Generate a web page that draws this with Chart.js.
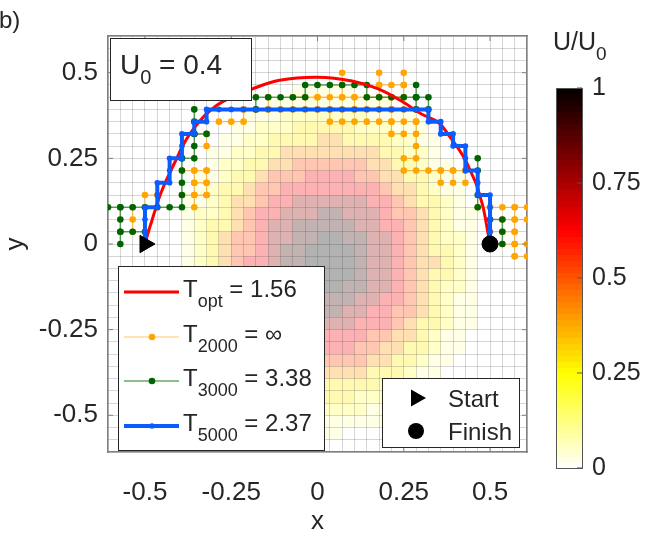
<!DOCTYPE html>
<html>
<head>
<meta charset="utf-8">
<script src="https://cdn.jsdelivr.net/npm/chart.js@4.4.1/dist/chart.umd.min.js"></script>
<style>
  body { margin: 0; background: #fff; }
  canvas { display: block; }
</style>
</head>
<body>
<canvas id="paths" width="648" height="545"></canvas>
<script>
// grid: nodes every 1/28, axes run from -17/28 to 17/28
var N = 28;
var LIM = 17 / N;
var xTicks = [-0.5, -0.25, 0, 0.25, 0.5];
var yTicks = [-0.5, -0.25, 0, 0.25, 0.5];
var cbTicks = [0, 0.25, 0.5, 0.75, 1];
var U0 = '0.4';

// U/U0 value of each level digit used in heatRows
var heatLevels = [0, 0.08, 0.18, 0.28, 0.4, 0.52, 0.64, 0.78, 0.92, 1.0];

// potential level per grid cell, top row (y from 16/28 to 17/28) first
var heatRows = [
  "0000000000000000000000000000000000",
  "0000000000000000000000000000000000",
  "0000000000000000000000000000000000",
  "0000000000000000000000000000000000",
  "0000000000000001111100000000000000",
  "0000000000000111111111100000000000",
  "0000000000011122222221111000000000",
  "0000000000112223333322211100000000",
  "0000000001122333344333322110000000",
  "0000000011223344444444332210000000",
  "0000000012233445555554433211000000",
  "0000000112334555666655443321100000",
  "0000000123345566666666544321100000",
  "0000001123445667777776654332100000",
  "0000001223456677788777655432110000",
  "0000001233456778888877665432110000",
  "0000001234556778899887765432210000",
  "0000001234556788999987765433210000",
  "0000001234566788999987765443210000",
  "0000001234556788999987765433210000",
  "0000001234556778899887765432210000",
  "0000001234456778888877665432110000",
  "0000001123456677788776655432110000",
  "0000001123455667777766654332110000",
  "0000000123345566666665544321100000",
  "0000000112334555666655443321100000",
  "0000000011233445555554433211000000",
  "0000000011223344444443332110000000",
  "0000000001122333333333221100000000",
  "0000000000111222333322211000000000",
  "0000000000011112222221110000000000",
  "0000000000000111111111100000000000",
  "0000000000000000011000000000000000",
  "0000000000000000000000000000000000"
];

// optimal trajectory
var optX = [-0.5, -0.489, -0.48, -0.468, -0.456, -0.441, -0.425, -0.408, -0.391, -0.37, -0.343, -0.315, -0.276, -0.19, -0.11, 0, 0.1, 0.178, 0.25, 0.3, 0.351, 0.38, 0.406, 0.428, 0.444, 0.46, 0.471, 0.481, 0.492, 0.5];
var optY = [0, 0.039, 0.068, 0.107, 0.143, 0.18, 0.214, 0.25, 0.286, 0.321, 0.357, 0.386, 0.415, 0.452, 0.478, 0.487, 0.476, 0.452, 0.413, 0.38, 0.354, 0.318, 0.282, 0.246, 0.211, 0.175, 0.139, 0.103, 0.044, 0];

var startPt = [-0.5, 0];
var finishPt = [0.5, 0];

// learned paths on the grid: "i,j:moves" (i, j in grid steps; U D L R one step each)
var path5000 = ["-14,0:UUURUURUURUURURURRRRRRRRRRRRRRRRRRDRDRDRDDRDDRDDDD"];
var path3000 = ["-17,3:RRR", "-16,3:DDD", "-16,1:RR", "-13,3:RRUUUU", "-11,7:RUUUU", "-10,9:R",
  "-5,11:URRRRURRRRRDRRRRUDDURD", "13,6:U", "13,4:D", "14,2:RDDL"];
var path2000 = ["-15,3:DD", "-14,3:UR", "-10,3:UUU", "-11,6:RR", "-11,4:RR", "-9,4:UU", "-10,5:R", "-10,9:RD",
  "-6,11:DLL", "-6,11:RRRRRRRRRRRRRR", "-4,11:U", "-2,12:RRRRRRRRR", "0,11:U", "3,11:U", "6,11:U",
  "2,12:UU", "5,12:UU", "7,12:UU", "5,13:RR", "1,11:DRRRRRRR", "6,10:DR", "8,10:DDDLDRRRRR",
  "10,6:D", "11,6:D", "12,6:D", "13,3:R", "14,3:RRR", "16,3:DDDD", "15,2:RR", "14,1:RR", "14,0:RRR", "16,-1:R"];

var legendSub = ['opt', '2000', '3000', '5000'];
var legendVal = ['1.56', '\u221e', '3.38', '2.37'];

var FONT = "'Liberation Sans', Arial, Helvetica, sans-serif";
var TXT = '#262626';

var gridVals = [];
for (var k = -17; k <= 17; k++) gridVals.push(k / N);

function pathPoints(list) {
  var pts = [];
  list.forEach(function (s) {
    var parts = s.split(':');
    var ij = parts[0].split(',').map(Number);
    var i = ij[0], j = ij[1];
    pts.push({ x: i / N, y: j / N });
    for (var m of parts[1]) {
      if (m === 'U') j++;
      else if (m === 'D') j--;
      else if (m === 'R') i++;
      else if (m === 'L') i--;
      pts.push({ x: i / N, y: j / N });
    }
    pts.push({ x: NaN, y: NaN });
  });
  return pts;
}

// flipped "hot" colormap
function heatColor(u) {
  var r, g, b;
  if (u <= 0.25) { r = 255; g = 255; b = 255 * (1 - u / 0.25); }
  else if (u <= 0.625) { r = 255; g = 255 * (1 - (u - 0.25) / 0.375); b = 0; }
  else { r = 255 * (1 - (u - 0.625) / 0.375); g = 0; b = 0; }
  return 'rgb(' + Math.round(r) + ',' + Math.round(g) + ',' + Math.round(b) + ')';
}

function drawParts(ctx, x, y, parts) {
  parts.forEach(function (p) {
    ctx.font = p[1] + 'px ' + FONT;
    ctx.fillText(p[0], x, y + p[2]);
    x += ctx.measureText(p[0]).width;
  });
  return x;
}

var heatPlugin = {
  id: 'heat',
  beforeDraw: function (chart) {
    var ctx = chart.ctx, a = chart.chartArea, xs = chart.scales.x, ys = chart.scales.y;
    ctx.save();
    ctx.beginPath();
    ctx.rect(a.left, a.top, a.right - a.left, a.bottom - a.top);
    ctx.clip();
    ctx.globalAlpha = 0.3;
    heatRows.forEach(function (row, r) {
      var j = 16 - r;
      for (var c = 0; c < row.length; c++) {
        var d = +row[c];
        if (!d) continue;
        var i = c - 17;
        var x0 = xs.getPixelForValue(i / N), x1 = xs.getPixelForValue((i + 1) / N);
        var y0 = ys.getPixelForValue((j + 1) / N), y1 = ys.getPixelForValue(j / N);
        ctx.fillStyle = heatColor(heatLevels[d]);
        ctx.fillRect(x0, y0, x1 - x0, y1 - y0);
      }
    });
    ctx.restore();
  }
};

var notesPlugin = {
  id: 'notes',
  afterDraw: function (chart) {
    var ctx = chart.ctx, a = chart.chartArea, xs = chart.scales.x, ys = chart.scales.y;
    var ds = chart.data.datasets;
    ctx.save();

    // inward major ticks
    ctx.strokeStyle = '#808080';
    ctx.lineWidth = 1;
    ctx.beginPath();
    xTicks.forEach(function (v) {
      var px = xs.getPixelForValue(v);
      ctx.moveTo(px, a.bottom); ctx.lineTo(px, a.bottom - 5);
      ctx.moveTo(px, a.top); ctx.lineTo(px, a.top + 5);
    });
    yTicks.forEach(function (v) {
      var py = ys.getPixelForValue(v);
      ctx.moveTo(a.left, py); ctx.lineTo(a.left + 5, py);
      ctx.moveTo(a.right, py); ctx.lineTo(a.right - 5, py);
    });
    ctx.stroke();

    ctx.fillStyle = TXT;
    ctx.textBaseline = 'alphabetic';
    ctx.textAlign = 'left';
    ctx.font = '24px ' + FONT;
    ctx.fillText('b)', -1, 28);

    // U0 box
    ctx.fillStyle = '#fff';
    ctx.strokeStyle = TXT;
    ctx.fillRect(110.5, 38.5, 141, 62);
    ctx.strokeRect(110.5, 38.5, 141, 62);
    ctx.fillStyle = TXT;
    drawParts(ctx, 120, 74, [['U', 28, 0], ['0', 20, 10], [' = ' + U0, 28, 0]]);

    // path legend
    ctx.fillStyle = '#fff';
    ctx.fillRect(118.5, 266.5, 206, 184);
    ctx.strokeRect(118.5, 266.5, 206, 184);
    var rows = [292, 337, 381, 426];
    var src = [ds[3], ds[5], ds[4], ds[2]];
    rows.forEach(function (ry, n) {
      var d = src[n];
      ctx.strokeStyle = d.borderColor;
      ctx.lineWidth = d.borderWidth;
      ctx.beginPath();
      ctx.moveTo(124, ry); ctx.lineTo(179, ry);
      ctx.stroke();
      if (d.pointRadius > 0) {
        ctx.fillStyle = d.pointBackgroundColor;
        ctx.beginPath();
        ctx.arc(152, ry, d.pointRadius, 0, Math.PI * 2);
        ctx.fill();
      }
      ctx.fillStyle = TXT;
      drawParts(ctx, 183, ry + 5, [['T', 24, 0], [legendSub[n], 18, 10], [' = ' + legendVal[n], 24, 0]]);
    });

    // start / finish legend
    ctx.fillStyle = '#fff';
    ctx.strokeStyle = TXT;
    ctx.lineWidth = 1;
    ctx.fillRect(382.5, 378.5, 137, 69);
    ctx.strokeRect(382.5, 378.5, 137, 69);
    ctx.fillStyle = '#000';
    ctx.beginPath();
    ctx.moveTo(426, 398); ctx.lineTo(411, 389.5); ctx.lineTo(411, 406.5); ctx.closePath();
    ctx.fill();
    ctx.beginPath();
    ctx.arc(416, 431, 8, 0, Math.PI * 2);
    ctx.fill();
    ctx.fillStyle = TXT;
    ctx.font = '24px ' + FONT;
    ctx.fillText('Start', 448, 407);
    ctx.fillText('Finish', 448, 440);

    // colorbar
    var cbL = 556, cbR = 582, cbT = 88, cbB = 468;
    var bands = 64;
    for (var b = 0; b < bands; b++) {
      var y1 = cbB - (b + 1) * (cbB - cbT) / bands, y0 = cbB - b * (cbB - cbT) / bands;
      ctx.fillStyle = heatColor((b + 0.5) / bands);
      ctx.fillRect(cbL, Math.floor(y1), cbR - cbL, Math.ceil(y0) - Math.floor(y1));
    }
    ctx.strokeStyle = '#555';
    ctx.lineWidth = 1;
    ctx.strokeRect(cbL + 0.5, cbT + 0.5, cbR - cbL, cbB - cbT);
    ctx.beginPath();
    ctx.fillStyle = TXT;
    ctx.font = '25px ' + FONT;
    ctx.textBaseline = 'middle';
    cbTicks.forEach(function (v) {
      var py = cbB - v * (cbB - cbT);
      ctx.moveTo(cbR - 5, py); ctx.lineTo(cbR, py);
      ctx.fillText(String(v), 592, py);
    });
    ctx.stroke();
    ctx.textBaseline = 'alphabetic';
    drawParts(ctx, 553, 50, [['U/U', 25, 0], ['0', 19, 10]]);

    ctx.restore();
  }
};

var tickFont = { family: FONT, size: 26 };
var frame = { color: '#808080', width: 1.5 };

new Chart(document.getElementById('paths'), {
  type: 'scatter',
  data: {
    datasets: [
      { label: 'Start', data: [{ x: startPt[0], y: startPt[1] }], pointStyle: 'triangle', rotation: 90,
        pointRadius: 10, backgroundColor: '#000', borderColor: '#000', borderWidth: 1 },
      { label: 'Finish', data: [{ x: finishPt[0], y: finishPt[1] }], pointStyle: 'circle',
        pointRadius: 8, backgroundColor: '#000', borderColor: '#000', borderWidth: 1 },
      { label: 'T5000', data: pathPoints(path5000), showLine: true, borderColor: '#0a5cff', borderWidth: 4,
        pointRadius: 2.8, pointBackgroundColor: '#0a5cff', pointBorderWidth: 0, spanGaps: false },
      { label: 'Topt', data: optX.map(function (v, n) { return { x: v, y: optY[n] }; }), showLine: true,
        borderColor: '#ff0000', borderWidth: 3, pointRadius: 0, tension: 0.4 },
      { label: 'T3000', data: pathPoints(path3000), showLine: true, borderColor: 'rgba(0,110,0,0.6)', borderWidth: 1.5,
        pointRadius: 3.3, pointBackgroundColor: '#006400', pointBorderWidth: 0, spanGaps: false },
      { label: 'T2000', data: pathPoints(path2000), showLine: true, borderColor: 'rgba(255,165,0,0.6)', borderWidth: 1.2,
        pointRadius: 3.3, pointBackgroundColor: '#ffa500', pointBorderWidth: 0, spanGaps: false }
    ]
  },
  options: {
    responsive: false,
    animation: false,
    events: [],
    layout: { padding: { left: 0, top: 36, right: 121, bottom: 0 } },
    plugins: { legend: { display: false }, tooltip: { enabled: false } },
    scales: {
      x: {
        type: 'linear', min: -LIM, max: LIM, position: 'bottom',
        afterBuildTicks: function (s) { s.ticks = xTicks.map(function (v) { return { value: v }; }); },
        afterFit: function (s) { s.height = 93; },
        grid: { drawOnChartArea: false, drawTicks: false },
        border: frame,
        ticks: { color: TXT, font: tickFont, padding: 25, autoSkip: false, maxRotation: 0,
          callback: function (v) { return String(v); } },
        title: { display: true, text: 'x', color: TXT, font: { family: FONT, size: 26 }, padding: { top: 0, bottom: 8 } }
      },
      y: {
        type: 'linear', min: -LIM, max: LIM, position: 'left',
        afterBuildTicks: function (s) { s.ticks = yTicks.map(function (v) { return { value: v }; }); },
        afterFit: function (s) { s.width = 108; },
        grid: { drawOnChartArea: false, drawTicks: false },
        border: frame,
        ticks: { color: TXT, font: tickFont, padding: 10, autoSkip: false,
          callback: function (v) { return String(v); } },
        title: { display: true, text: 'y', color: TXT, font: { family: FONT, size: 26 }, padding: { top: 0, bottom: 0 } }
      },
      gx: {
        type: 'linear', min: -LIM, max: LIM, position: 'top',
        afterBuildTicks: function (s) { s.ticks = gridVals.map(function (v) { return { value: v }; }); },
        afterFit: function (s) { s.height = 0; },
        grid: { color: 'rgba(0,0,0,0.16)', lineWidth: 1, drawTicks: false },
        border: frame,
        ticks: { display: false }
      },
      gy: {
        type: 'linear', min: -LIM, max: LIM, position: 'right',
        afterBuildTicks: function (s) { s.ticks = gridVals.map(function (v) { return { value: v }; }); },
        afterFit: function (s) { s.width = 0; },
        grid: { color: 'rgba(0,0,0,0.16)', lineWidth: 1, drawTicks: false },
        border: frame,
        ticks: { display: false }
      }
    }
  },
  plugins: [heatPlugin, notesPlugin]
});
</script>
</body>
</html>
